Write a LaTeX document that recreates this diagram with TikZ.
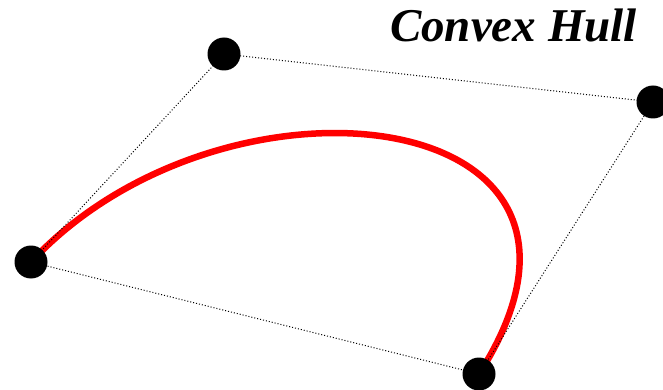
\documentclass[tikz,border=0pt]{standalone}
\usepackage{fontspec}
\setmainfont{Liberation Serif}
\usepackage{tikz}
\usetikzlibrary{positioning}
\definecolor{curvered}{HTML}{FF0000}

\begin{document}
\begin{tikzpicture}[x=1pt,y=-1pt,
  ctrl/.style={circle,fill=black,minimum size=33pt,inner sep=0pt},
  hull/.style={dotted,line width=1pt,black},
  bez/.style={draw=curvered,line width=6.5pt,line cap=round}]
\useasboundingbox (0,0) rectangle (663,390);
\coordinate (c0) at (31,262);
\coordinate (c1) at (224,54);
\coordinate (c2) at (653,102);
\coordinate (c3) at (479,374);
% curve first, hull on top
\draw[bez] (c0) .. controls (c1) and (c2) .. (c3);
\draw[hull] (c0) -- (c1) -- (c2) -- (c3) -- cycle;
\node[ctrl] (p0) at (c0) {};
\node[ctrl] (p1) at (c1) {};
\node[ctrl] (p2) at (c2) {};
\node[ctrl] (p3) at (c3) {};
\node[anchor=base east,inner sep=0pt,font=\fontsize{47}{52}\selectfont\bfseries\itshape] (title) at (637,42) {Convex Hull};
\end{tikzpicture}
\end{document}
